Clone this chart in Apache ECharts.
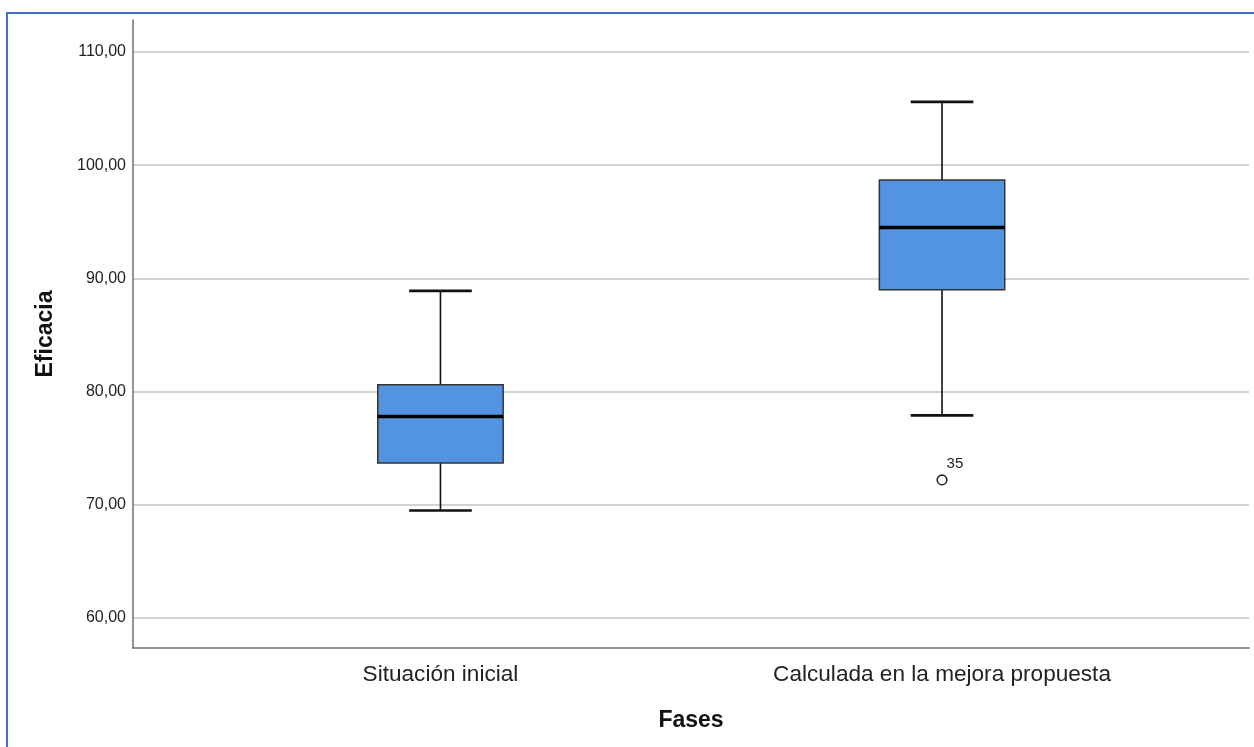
<!DOCTYPE html>
<html>
<head>
<meta charset="utf-8">
<script src="https://cdn.jsdelivr.net/npm/echarts@6/dist/echarts.min.js"></script>
<style>
  html, body { margin: 0; padding: 0; background: #fff; }
  #wrap { position: relative; width: 1254px; height: 747px; overflow: hidden; }
  #chart { position: absolute; left: 0; top: 0; width: 1254px; height: 747px; }
  #frame { position: absolute; left: 6px; top: 12px; right: -4px; bottom: -4px;
           border-left: 2px solid #4472c4; border-top: 2px solid #4472c4; pointer-events: none; }
</style>
</head>
<body>
<div id="wrap"><div id="chart"></div><div id="frame"></div></div>
<script>
// ---- data ----
const categories   = ['Situación inicial', 'Calculada en la mejora propuesta'];
const whiskerLow   = [69.5, 77.9];
const q1           = [73.7, 89.0];
const median       = [77.8, 94.5];
const q3           = [80.6, 98.7];
const whiskerHigh  = [88.9, 105.6];
const outlierCat   = [1];
const outlierVal   = [72.2];
const outlierLabel = ['35'];
const yTicks       = [60, 70, 80, 90, 100, 110];
const yTitle = 'Eficacia';
const xTitle = 'Fases';

const boxData = categories.map((c, i) => [i, whiskerLow[i], q1[i], median[i], q3[i], whiskerHigh[i]]);
const outData = outlierCat.map((c, i) => [c, outlierVal[i], outlierLabel[i]]);

const chart = echarts.init(document.getElementById('chart'), null, { renderer: 'canvas' });

const fmtY = v => Number(v).toFixed(2).replace('.', ',');

chart.setOption({
  animation: false,
  backgroundColor: '#ffffff',
  grid: { left: 133, right: 5, top: 20, bottom: 99, containLabel: false },
  xAxis: {
    type: 'value',
    min: -0.613,
    max: 1.612,
    name: xTitle,
    nameLocation: 'middle',
    nameGap: 61,
    nameTextStyle: { fontFamily: 'Liberation Sans, Arial, sans-serif', fontSize: 23, fontWeight: 'bold', color: '#111' },
    axisLine: { show: true, onZero: false, lineStyle: { color: '#6f6f6f', width: 1.5 } },
    axisTick: { show: false, customValues: categories.map((c, i) => i) },
    splitLine: { show: false },
    axisLabel: {
      show: true,
      customValues: categories.map((c, i) => i),
      formatter: v => categories[Math.round(v)] || '',
      margin: 15,
      fontFamily: 'Liberation Sans, Arial, sans-serif',
      fontSize: 22.6,
      color: '#222'
    }
  },
  yAxis: {
    type: 'value',
    min: 57.35,
    max: 112.83,
    name: yTitle,
    nameLocation: 'middle',
    nameGap: 76,
    nameTextStyle: { fontFamily: 'Liberation Sans, Arial, sans-serif', fontSize: 23, fontWeight: 'bold', color: '#111' },
    axisLine: { show: true, onZero: false, lineStyle: { color: '#6f6f6f', width: 1.5 } },
    axisTick: { show: false, customValues: yTicks },
    splitLine: { show: true, lineStyle: { color: '#d2d2d2', width: 2 } },
    axisLabel: {
      customValues: yTicks,
      formatter: fmtY,
      margin: 7,
      padding: [5, 0, 0, 0],
      fontFamily: 'Liberation Sans, Arial, sans-serif',
      fontSize: 16,
      color: '#222'
    }
  },
  series: [
    {
      type: 'custom',
      name: 'box',
      data: boxData,
      encode: { x: 0, y: [1, 2, 3, 4, 5] },
      renderItem: function (params, api) {
        const i = api.value(0);
        const pLo = api.coord([i, api.value(1)]);
        const pQ1 = api.coord([i, api.value(2)]);
        const pMd = api.coord([i, api.value(3)]);
        const pQ3 = api.coord([i, api.value(4)]);
        const pHi = api.coord([i, api.value(5)]);
        const band = api.size([1, 0])[0];
        const bw = band * 0.25;
        const cw = band * 0.125;
        const cx = pLo[0];
        const blk = { stroke: '#111', lineWidth: 1.6 };
        return {
          type: 'group',
          children: [
            { type: 'line', shape: { x1: cx, y1: pHi[1], x2: cx, y2: pQ3[1] }, style: blk },
            { type: 'line', shape: { x1: cx, y1: pQ1[1], x2: cx, y2: pLo[1] }, style: blk },
            { type: 'line', shape: { x1: cx - cw / 2, y1: pHi[1], x2: cx + cw / 2, y2: pHi[1] }, style: { stroke: '#111', lineWidth: 2.6 } },
            { type: 'line', shape: { x1: cx - cw / 2, y1: pLo[1], x2: cx + cw / 2, y2: pLo[1] }, style: { stroke: '#111', lineWidth: 2.6 } },
            { type: 'rect', shape: { x: cx - bw / 2, y: pQ3[1], width: bw, height: pQ1[1] - pQ3[1] },
              style: { fill: '#5294e2', stroke: '#333', lineWidth: 1.5 } },
            { type: 'line', shape: { x1: cx - bw / 2, y1: pMd[1], x2: cx + bw / 2, y2: pMd[1] }, style: { stroke: '#000', lineWidth: 3.5 } }
          ]
        };
      }
    },
    {
      type: 'custom',
      name: 'outliers',
      data: outData,
      encode: { x: 0, y: 1 },
      renderItem: function (params, api) {
        const p = api.coord([api.value(0), api.value(1)]);
        const lbl = outData[params.dataIndex][2];
        return {
          type: 'group',
          children: [
            { type: 'circle', shape: { cx: p[0], cy: p[1], r: 4.8 }, style: { fill: '#fff', stroke: '#222', lineWidth: 1.6 } },
            { type: 'text', style: { text: lbl, x: p[0] + 4.5, y: p[1] - 9, align: 'left', verticalAlign: 'bottom',
                fontFamily: 'Liberation Sans, Arial, sans-serif', fontSize: 15, fill: '#222' } }
          ]
        };
      }
    }
  ]
});
</script>
</body>
</html>
